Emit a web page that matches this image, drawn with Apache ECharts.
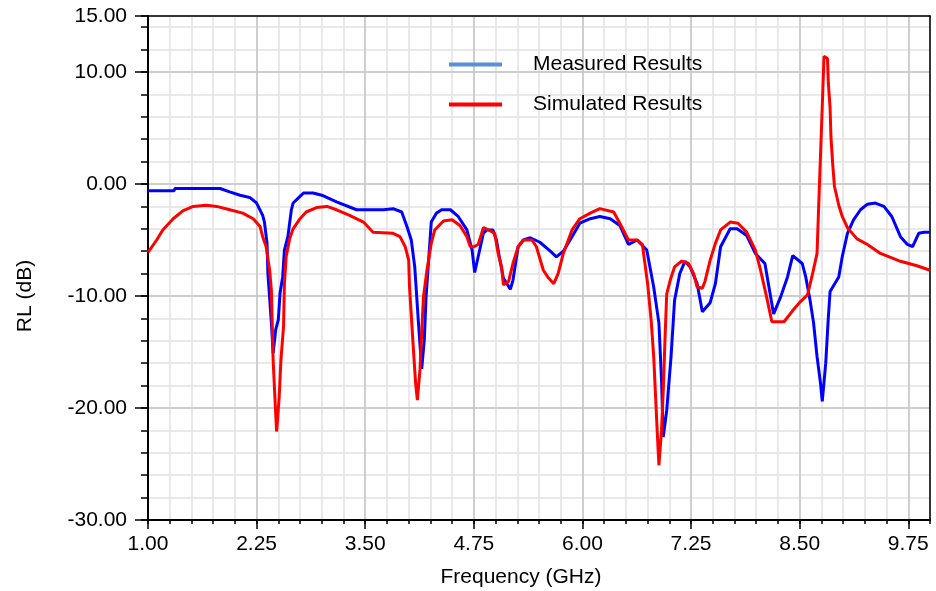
<!DOCTYPE html>
<html><head><meta charset="utf-8">
<script src="https://cdn.jsdelivr.net/npm/echarts@6/dist/echarts.min.js"></script>
<style>html,body{margin:0;padding:0;background:#fff}#c{width:936px;height:591px}</style>
</head><body><div id="c"></div>
<script>
// ---- data (frequency in GHz, return loss in dB) ----
const measuredFreq = [1.00,1.30,1.31,1.83,1.94,2.06,2.17,2.25,2.32,2.34,2.37,2.38,2.42,2.44,2.47,2.50,2.52,2.55,2.57,2.61,2.65,2.67,2.75,2.79,2.90,3.00,3.17,3.40,3.71,3.82,3.92,3.98,4.03,4.07,4.11,4.15,4.18,4.20,4.23,4.26,4.32,4.38,4.48,4.57,4.67,4.73,4.76,4.80,4.86,4.90,4.97,5.01,5.05,5.09,5.17,5.20,5.26,5.32,5.40,5.51,5.63,5.70,5.78,5.88,5.97,6.09,6.20,6.32,6.43,6.53,6.63,6.74,6.82,6.88,6.91,6.93,6.97,7.02,7.06,7.12,7.18,7.24,7.32,7.38,7.47,7.53,7.59,7.70,7.78,7.89,7.99,8.10,8.14,8.20,8.28,8.36,8.42,8.53,8.57,8.62,8.66,8.70,8.74,8.76,8.80,8.83,8.85,8.95,8.99,9.05,9.12,9.20,9.28,9.37,9.47,9.56,9.66,9.74,9.80,9.87,9.93,10.00];
const measuredRL = [-0.6,-0.6,-0.4,-0.4,-0.7,-1.0,-1.2,-1.7,-2.8,-3.4,-5.3,-8.0,-12.4,-15.1,-13.0,-12.1,-9.7,-8.3,-5.9,-4.7,-2.3,-1.7,-1.1,-0.8,-0.8,-1.0,-1.6,-2.3,-2.3,-2.2,-2.5,-3.8,-5.0,-7.4,-12.1,-16.5,-13.9,-10.1,-6.8,-3.4,-2.6,-2.3,-2.3,-2.9,-4.1,-5.9,-7.9,-6.5,-4.4,-4.1,-4.1,-5.0,-6.8,-8.4,-9.4,-8.6,-5.6,-5.0,-4.8,-5.2,-6.0,-6.5,-6.0,-4.7,-3.5,-3.1,-2.9,-3.1,-3.7,-5.4,-5.0,-5.9,-9.2,-12.4,-17.5,-22.6,-20.2,-15.4,-10.4,-8.0,-6.9,-7.4,-8.9,-11.4,-10.6,-8.9,-5.6,-4.0,-4.0,-4.6,-6.2,-7.1,-8.9,-11.6,-10.1,-8.3,-6.4,-7.1,-8.3,-10.4,-12.4,-15.4,-17.8,-19.4,-16.0,-11.9,-9.6,-8.3,-6.5,-4.4,-3.2,-2.3,-1.8,-1.7,-2.0,-2.9,-4.7,-5.4,-5.6,-4.4,-4.3,-4.3];
const simulatedFreq = [1.00,1.10,1.17,1.29,1.40,1.52,1.67,1.79,1.94,2.09,2.21,2.29,2.32,2.36,2.40,2.42,2.44,2.46,2.48,2.51,2.53,2.56,2.57,2.59,2.63,2.67,2.75,2.82,2.94,3.06,3.17,3.32,3.48,3.59,3.82,3.90,3.96,4.00,4.01,4.05,4.08,4.10,4.13,4.15,4.17,4.21,4.26,4.30,4.40,4.50,4.59,4.67,4.71,4.75,4.80,4.86,4.92,4.99,5.03,5.07,5.09,5.15,5.20,5.26,5.32,5.42,5.47,5.55,5.61,5.67,5.72,5.78,5.88,5.97,6.09,6.20,6.36,6.43,6.53,6.63,6.69,6.75,6.79,6.82,6.84,6.86,6.88,6.91,6.93,6.95,6.97,7.01,7.06,7.14,7.22,7.28,7.32,7.38,7.41,7.47,7.53,7.59,7.70,7.79,7.89,7.99,8.05,8.12,8.18,8.32,8.42,8.51,8.59,8.64,8.70,8.72,8.74,8.76,8.78,8.82,8.83,8.85,8.86,8.88,8.90,8.95,8.99,9.05,9.16,9.28,9.43,9.66,9.85,10.00];
const simulatedRL = [-6.1,-5.0,-4.1,-3.1,-2.4,-2.0,-1.9,-2.0,-2.3,-2.6,-3.1,-3.8,-4.7,-5.6,-7.7,-9.5,-15.7,-19.0,-22.1,-19.0,-15.7,-12.7,-8.9,-6.5,-4.9,-4.0,-3.1,-2.5,-2.1,-2.0,-2.3,-2.8,-3.4,-4.3,-4.4,-4.7,-5.6,-6.8,-9.2,-14.2,-17.8,-19.3,-16.6,-13.3,-10.1,-7.7,-5.3,-4.1,-3.3,-3.2,-3.7,-4.7,-5.6,-5.6,-5.4,-3.9,-4.1,-4.4,-6.2,-7.4,-9.0,-8.7,-7.1,-5.6,-5.0,-5.0,-5.6,-7.7,-8.4,-8.9,-8.0,-6.2,-4.1,-3.1,-2.6,-2.2,-2.5,-3.5,-5.0,-5.0,-5.4,-8.9,-12.1,-15.4,-18.7,-22.0,-25.1,-22.0,-18.4,-13.9,-9.8,-8.6,-7.4,-6.9,-7.1,-8.0,-9.2,-9.3,-8.7,-6.8,-5.3,-4.1,-3.4,-3.5,-4.3,-5.9,-7.7,-10.1,-12.3,-12.3,-11.3,-10.5,-9.9,-8.3,-6.2,-1.7,2.6,6.9,11.4,11.2,9.0,6.8,4.2,1.8,-0.2,-1.9,-2.9,-3.9,-4.9,-5.4,-6.2,-6.9,-7.3,-7.7];
const seriesNames = ['Measured Results', 'Simulated Results'];
const xMin = 1.00, xMax = 10.00, xStep = 1.25, xMinorStep = 0.25;
const yMin = -30, yMax = 15, yStep = 10, yMinorStep = 2;
// ---------------------------------------------------

// x axis is offset so that its min (1.00) sits on a tick multiple
const toPairs = (fs, vs) => fs.map((f, i) => [+(f - xMin).toFixed(4), vs[i]]);
const FONT = "'Liberation Sans', Arial, sans-serif";
const MAJOR = '#c4c4c4', MINOR = '#e2e2e2';

const chart = echarts.init(document.getElementById('c'), null, {renderer: 'canvas'});
chart.setOption({
  animation: false,
  backgroundColor: '#fff',
  textStyle: {fontFamily: FONT},
  grid: {left: 148, right: 6, top: 16, bottom: 71, containLabel: false, outerBoundsMode: 'none'},
  legend: {
    orient: 'vertical', left: 449, top: 54, padding: 0,
    itemWidth: 53, itemHeight: 4, itemGap: 19,
    textStyle: {fontSize: 21, color: '#000', fontFamily: FONT, padding: [0, 0, 0, 26], lineHeight: 21},
    data: [
      {name: seriesNames[0], icon: 'rect', itemStyle: {color: '#5a8fd9'}},
      {name: seriesNames[1], icon: 'rect', itemStyle: {color: '#ff0000'}}
    ]
  },
  xAxis: [
    { // main
      type: 'value', position: 'bottom', min: 0, max: xMax - xMin, interval: xStep, z: 2,
      name: 'Frequency (GHz)', nameLocation: 'middle', nameGap: 47,
      nameTextStyle: {fontSize: 21, color: '#000', fontFamily: FONT, padding: [0, 36, 0, 0]},
      axisLine: {show: true, onZero: false, lineStyle: {color: '#000', width: 2}},
      axisTick: {show: true, length: 9, lineStyle: {color: '#000', width: 1.5}},
      axisLabel: {show: true, margin: 14, fontSize: 21, color: '#000', fontFamily: FONT, showMaxLabel: false,
        formatter: v => (v + xMin).toFixed(2)},
      splitLine: {show: true, lineStyle: {color: MAJOR, width: 1.5}}
    },
    { // minor grid / ticks
      type: 'value', position: 'bottom', min: 0, max: xMax - xMin, interval: xMinorStep, z: 1,
      axisLine: {show: false, onZero: false},
      axisTick: {show: true, length: 4, lineStyle: {color: '#000', width: 1.5}},
      axisLabel: {show: false},
      splitLine: {show: true, lineStyle: {color: MINOR, width: 1.5}}
    },
    { // top border
      type: 'value', position: 'top', min: 0, max: xMax - xMin, z: 3,
      axisLine: {show: true, onZero: false, lineStyle: {color: '#000', width: 1.5}},
      axisTick: {show: false}, axisLabel: {show: false}, splitLine: {show: false}
    }
  ],
  yAxis: [
    { // main
      type: 'value', position: 'left', min: yMin, max: yMax, interval: yStep, z: 2,
      name: 'RL (dB)', nameLocation: 'middle', nameGap: 112,
      nameTextStyle: {fontSize: 21, color: '#000', fontFamily: FONT, padding: [0, 56, 0, 0]},
      axisLine: {show: true, onZero: false, lineStyle: {color: '#000', width: 2}},
      axisTick: {show: true, length: 13, lineStyle: {color: '#000', width: 1.5}},
      axisLabel: {show: true, margin: 21, fontSize: 21, color: '#000', fontFamily: FONT,
        formatter: v => v.toFixed(2)},
      splitLine: {show: true, lineStyle: {color: MAJOR, width: 1.5}}
    },
    { // minor grid / ticks
      type: 'value', position: 'left', min: yMin, max: yMax, interval: yMinorStep, z: 1,
      axisLine: {show: false, onZero: false},
      axisTick: {show: true, length: 7, lineStyle: {color: '#000', width: 1.5}},
      axisLabel: {show: false},
      splitLine: {show: true, lineStyle: {color: MINOR, width: 1.5}}
    },
    { // right border
      type: 'value', position: 'right', min: yMin, max: yMax, z: 3,
      axisLine: {show: true, onZero: false, lineStyle: {color: '#000', width: 1.5}},
      axisTick: {show: false}, axisLabel: {show: false}, splitLine: {show: false}
    }
  ],
  series: [
    {
      name: seriesNames[0], type: 'line', xAxisIndex: 0, yAxisIndex: 0,
      data: toPairs(measuredFreq, measuredRL),
      showSymbol: false, symbol: 'none', z: 5,
      lineStyle: {color: '#0000ff', width: 3}, itemStyle: {color: '#0000ff'}
    },
    {
      name: seriesNames[1], type: 'line', xAxisIndex: 0, yAxisIndex: 0,
      data: toPairs(simulatedFreq, simulatedRL),
      showSymbol: false, symbol: 'none', z: 5,
      lineStyle: {color: '#ff0000', width: 3}, itemStyle: {color: '#ff0000'}
    }
  ]
});
</script></body></html>
